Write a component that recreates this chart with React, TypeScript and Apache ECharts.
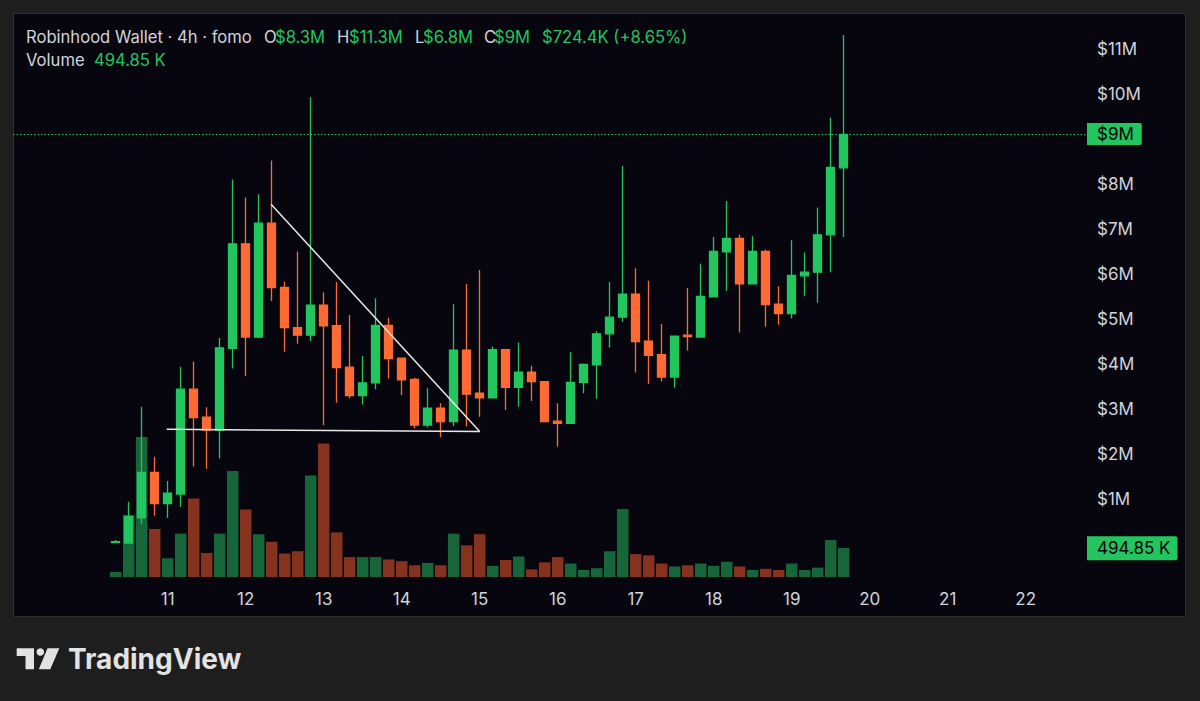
import React, { useEffect, useRef } from "react";
import * as echarts from "echarts";

// 4h candles, price in $M (market cap). index 0 = day 10, 08:00
const opens = [0.03, 0.02, 0.58, 1.59, 0.90, 1.11, 3.44, 2.82, 2.53, 4.35, 6.67, 4.60, 7.13, 5.70, 4.81, 4.64, 5.31, 4.85, 3.93, 3.30, 3.58, 4.86, 4.13, 3.66, 2.64, 3.02, 2.72, 4.31, 3.35, 3.25, 4.32, 3.48, 3.82, 3.61, 2.73, 2.68, 3.59, 3.98, 4.67, 5.04, 5.55, 4.51, 4.21, 3.71, 4.64, 4.60, 5.49, 6.49, 6.79, 5.78, 6.50, 5.33, 5.12, 5.96, 6.04, 6.87, 8.36];
const closes = [0.05, 0.61, 1.59, 0.90, 1.13, 3.44, 2.81, 2.53, 4.36, 6.67, 4.60, 7.13, 5.70, 4.81, 4.64, 5.31, 4.85, 3.92, 3.30, 3.58, 4.86, 4.12, 3.65, 2.64, 3.02, 2.72, 4.31, 3.33, 3.25, 4.32, 3.48, 3.82, 3.61, 2.72, 2.68, 3.59, 3.99, 4.67, 5.04, 5.55, 4.50, 4.19, 3.71, 4.62, 4.61, 5.50, 6.50, 6.79, 5.78, 6.50, 5.32, 5.12, 5.97, 6.04, 6.87, 8.37, 9.10];
const lows = [0.02, 0.01, 0.44, 0.63, 0.58, 0.82, 1.72, 1.67, 1.90, 3.90, 3.73, 4.58, 5.40, 4.27, 4.45, 4.51, 2.64, 3.14, 3.24, 3.10, 3.44, 3.68, 3.31, 2.57, 2.59, 2.37, 2.62, 2.61, 2.83, 3.25, 2.98, 3.05, 3.18, 2.72, 2.16, 2.68, 3.35, 3.23, 4.36, 4.94, 3.81, 3.56, 3.61, 3.48, 4.30, 4.60, 5.49, 5.63, 4.70, 5.78, 4.83, 4.87, 5.01, 5.51, 5.36, 6.04, 6.82];
const highs = [0.09, 0.94, 3.05, 1.94, 1.40, 3.94, 4.05, 3.04, 4.58, 8.10, 7.70, 7.77, 8.52, 5.83, 6.50, 9.93, 5.59, 5.82, 5.09, 4.18, 5.46, 5.03, 4.13, 3.69, 3.46, 3.13, 5.33, 5.78, 6.09, 4.39, 4.32, 4.48, 3.96, 3.61, 3.13, 4.26, 4.01, 4.73, 5.82, 8.40, 6.13, 5.85, 4.89, 4.62, 5.69, 6.23, 6.82, 7.62, 6.87, 6.84, 6.54, 5.73, 6.75, 6.48, 7.48, 9.47, 11.31];
// volume in $M
const volumes = [0.085, 1.06, 2.39, 0.82, 0.32, 0.74, 1.34, 0.41, 0.74, 1.81, 1.15, 0.73, 0.60, 0.40, 0.44, 1.73, 2.28, 0.76, 0.34, 0.34, 0.34, 0.30, 0.27, 0.20, 0.24, 0.20, 0.74, 0.54, 0.73, 0.19, 0.29, 0.35, 0.13, 0.25, 0.34, 0.23, 0.12, 0.15, 0.44, 1.16, 0.39, 0.37, 0.23, 0.18, 0.20, 0.23, 0.19, 0.26, 0.18, 0.12, 0.14, 0.12, 0.23, 0.12, 0.16, 0.63, 0.49485];

const dayLabels = ["11", "12", "13", "14", "15", "16", "17", "18", "19", "20", "21", "22"];
const dayStartIndex = [4, 10, 16, 22, 28, 34, 40, 46, 52, 58, 64, 70];
const priceTicks = [1, 2, 3, 4, 5, 6, 7, 8, 10, 11];

const lastPrice = 9.11;
const lastPriceLabel = "$9M";
const lastVolume = 0.49485;
const lastVolumeLabel = "494.85 K";

// drawn trend lines: [x index, price $M]
const trendDown = [[11.95, 7.55], [28, 2.5]];
const trendFlat = [[3.92, 2.55], [28, 2.5]];

const header1 = [
  { t: "Robinhood Wallet · 4h · fomo", x: 26, c: "g" },
  { t: "O", x: 264, c: "g" },
  { t: "$8.3M", x: 275, c: "up" },
  { t: "H", x: 337, c: "g" },
  { t: "$11.3M", x: 349, c: "up" },
  { t: "L", x: 415, c: "g" },
  { t: "$6.8M", x: 423, c: "up" },
  { t: "C", x: 484, c: "g" },
  { t: "$9M", x: 494, c: "up" },
  { t: "$724.4K (+8.65%)", x: 542, c: "up" },
];
const header2 = [
  { t: "Volume", x: 26, c: "g" },
  { t: "494.85 K", x: 94, c: "up" },
];

const GREEN = "#22c55e";
const ORANGE = "#ff6a33";
const VOL_GREEN = "#17663a";
const VOL_RED = "#85331f";
const GREY = "#d1d4dc";
const FONT = "Inter, Roboto, sans-serif";

export default function App() {
  const ref = useRef<HTMLDivElement>(null);
  useEffect(() => {
    document.body.style.margin = "0";
    document.body.style.background = "#1e1e1e";
    const chart = echarts.init(ref.current!, null, { renderer: "svg" });
    const xMin = -7.9;
    const xMax = 74.56;

    const headerEls: any[] = [];
    header1.forEach((h) =>
      headerEls.push({
        type: "text",
        x: h.x,
        y: 37,
        z: 10,
        style: { text: h.t, fill: h.c === "up" ? GREEN : GREY, font: `16.6px ${FONT}`, align: "left", verticalAlign: "middle" },
      })
    );
    header2.forEach((h) =>
      headerEls.push({
        type: "text",
        x: h.x,
        y: 60,
        z: 10,
        style: { text: h.t, fill: h.c === "up" ? GREEN : GREY, font: `16.6px ${FONT}`, align: "left", verticalAlign: "middle" },
      })
    );

    const tagLabel = (text: string, pad: number[]) => ({
      show: true,
      position: "end",
      distance: 2,
      formatter: text,
      color: "#000",
      backgroundColor: GREEN,
      padding: pad,
      borderRadius: [0, 2, 2, 0],
      fontSize: 17,
      fontFamily: FONT,
    });

    const option: any = {
      animation: false,
      backgroundColor: "#1e1e1e",
      graphic: [
        {
          type: "rect",
          z: -10,
          shape: { x: 13.5, y: 13.5, width: 1172, height: 603 },
          style: { fill: "#07060f", stroke: "#2e2e2e", lineWidth: 1 },
        },
        ...headerEls,
        {
          type: "polygon",
          z: 10,
          shape: { points: [[16.7, 648.3], [34, 648.3], [34, 669.3], [25.5, 669.3], [25.5, 656], [16.7, 656]] },
          style: { fill: "#e3e3e3" },
        },
        { type: "circle", z: 10, shape: { cx: 40.3, cy: 652, r: 3.8 }, style: { fill: "#e3e3e3" } },
        {
          type: "polygon",
          z: 10,
          shape: { points: [[47.5, 648.3], [59.3, 648.3], [50.3, 669.3], [38.8, 669.3]] },
          style: { fill: "#e3e3e3" },
        },
        {
          type: "text",
          x: 68,
          y: 659,
          z: 10,
          style: { text: "TradingView", fill: "#e3e3e3", font: `bold 28px ${FONT}`, align: "left", verticalAlign: "middle" },
        },
      ],
      grid: [
        { left: 13, right: 115, top: 4, height: 540 },
        { left: 13, right: 115, top: 430.5, height: 146.5 },
      ],
      xAxis: [
        { type: "value", gridIndex: 0, min: xMin, max: xMax, show: false, splitLine: { show: false } },
        {
          type: "value",
          gridIndex: 1,
          min: xMin,
          max: xMax,
          axisLine: { show: false },
          axisTick: { show: false },
          splitLine: { show: false },
          axisLabel: {
            customValues: dayStartIndex,
            margin: 13,
            color: GREY,
            fontSize: 17,
            fontFamily: FONT,
            formatter: (v: number) => {
              const k = dayStartIndex.indexOf(Math.round(v));
              return k >= 0 ? dayLabels[k] : "";
            },
          },
        },
      ],
      yAxis: [
        {
          type: "value",
          gridIndex: 0,
          position: "right",
          min: 0,
          max: 12,
          interval: 1,
          axisLine: { show: false },
          axisTick: { show: false },
          splitLine: { show: false },
          axisLabel: {
            margin: 12,
            color: GREY,
            fontSize: 17,
            fontFamily: FONT,
            formatter: (v: number) => (priceTicks.indexOf(v) >= 0 ? `$${v}M` : ""),
          },
        },
        { type: "value", gridIndex: 1, min: 0, max: 2.5, show: false, splitLine: { show: false } },
      ],
      series: [
        {
          type: "bar",
          xAxisIndex: 1,
          yAxisIndex: 1,
          barWidth: 11.5,
          data: volumes.map((v, i) => ({
            value: [i, v],
            itemStyle: { color: closes[i] >= opens[i] ? VOL_GREEN : VOL_RED },
          })),
          markLine: {
            silent: true,
            symbol: ["none", "none"],
            lineStyle: { color: "rgba(0,0,0,0)", width: 1, type: "solid" },
            data: [{ yAxis: lastVolume, label: tagLabel(lastVolumeLabel, [4, 7, 3, 10]) }],
          },
        },
        {
          type: "candlestick",
          xAxisIndex: 0,
          yAxisIndex: 0,
          barWidth: 9,
          encode: { x: 0, y: [1, 2, 3, 4] },
          data: opens.map((o, i) => [i, o, closes[i], lows[i], highs[i]]),
          itemStyle: { color: GREEN, color0: ORANGE, borderColor: GREEN, borderColor0: ORANGE, borderWidth: 1.3 },
          markLine: {
            silent: true,
            symbol: ["none", "none"],
            label: { show: false },
            lineStyle: { color: "#e8e8e8", width: 1.5, type: "solid" },
            data: [
              [{ coord: trendDown[0] }, { coord: trendDown[1] }],
              [{ coord: trendFlat[0] }, { coord: trendFlat[1] }],
              {
                yAxis: lastPrice,
                lineStyle: { color: GREEN, width: 1, type: [1.5, 2] },
                label: tagLabel(lastPriceLabel, [3, 8, 2, 10]),
              },
            ],
          },
        },
      ],
    };
    chart.setOption(option);
    return () => chart.dispose();
  }, []);
  return <div ref={ref} style={{ position: "fixed", left: 0, top: 0, width: 1200, height: 701 }} />;
}
